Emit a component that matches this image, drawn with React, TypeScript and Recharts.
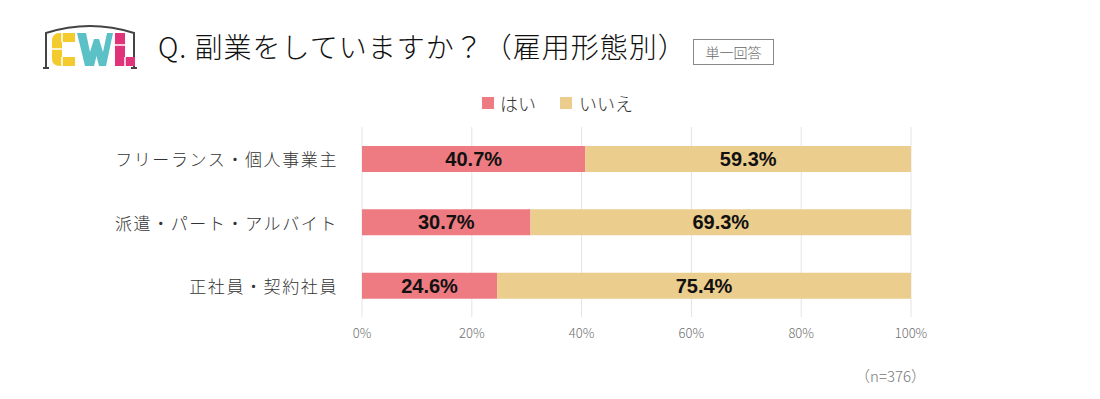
import React from "react";
import {
  BarChart,
  Bar,
  XAxis,
  YAxis,
  CartesianGrid,
  LabelList,
} from "recharts";

const categories = [
  "フリーランス・個人事業主",
  "派遣・パート・アルバイト",
  "正社員・契約社員",
];
const yesValues = [40.7, 30.7, 24.6];
const noValues = [59.3, 69.3, 75.4];
const xTicks = [0, 20, 40, 60, 80, 100];

const YES_COLOR = "#ED7B81";
const NO_COLOR = "#EBCD8D";
const JP = '"Noto Sans CJK JP", "Noto Sans", sans-serif';
const LABEL_FONT = '"Liberation Sans", Arial, sans-serif';

const data = categories.map((name, i) => ({
  name,
  yes: yesValues[i],
  no: noValues[i],
}));

function Logo() {
  return (
    <svg width={100} height={60} style={{ position: "absolute", left: 40, top: 15 }}>
      <path
        d="M6 53 L6 18 Q50 4 94 18 L94 53"
        fill="none"
        stroke="#444"
        strokeWidth={2}
      />
      <path d="M3 53 L9 53 M91 53 L97 53" stroke="#444" strokeWidth={2} />
      {/* C */}
      <path
        d="M35 18 L20 18 Q12 18 12 26 L12 44 Q12 51 20 51 L35 51 L35 42 L22 42 L22 27 L35 27 Z"
        fill="#F3CB2E"
      />
      <path d="M12 34 L22 34 M22 18 L22 27 M22 42 L22 51" stroke="#fff" strokeWidth={1.5} />
      {/* W */}
      <path d="M37 18 L46 18 L50 37 L54 24 L59 24 L63 37 L67 18 L73 18 L66 51 L59 51 L56.5 41 L54 51 L45 51 Z" fill="#5CC0C7" />
      {/* L */}
      <path d="M75 18 L85 18 L85 42 L95 42 L95 51 L75 51 Z" fill="#E0337A" />
      <path d="M75 30 L85 30 M85 42 L85 51" stroke="#fff" strokeWidth={1.5} />
    </svg>
  );
}

function CategoryTick(props: any) {
  const { y, payload } = props;
  return (
    <text
      x={338}
      y={y}
      textAnchor="end"
      dominantBaseline="central"
      fontFamily={JP}
      fontSize={17}
      fontWeight={300}
      letterSpacing={1.6}
      fill="#333"
    >
      {payload.value}
    </text>
  );
}

function LegendBox() {
  return (
    <div
      style={{
        position: "absolute",
        top: 90,
        left: 482,
        display: "flex",
        alignItems: "center",
        fontFamily: JP,
        fontSize: 18,
        color: "#333",
        fontWeight: 300,
        lineHeight: "26px",
      }}
    >
      <span style={{ width: 12, height: 12, background: YES_COLOR, marginRight: 6 }} />
      <span style={{ marginRight: 24 }}>はい</span>
      <span style={{ width: 12, height: 12, background: NO_COLOR, marginRight: 7 }} />
      <span>いいえ</span>
    </div>
  );
}

export default function App() {
  return (
    <div
      style={{
        position: "absolute",
        left: 0,
        top: 0,
        width: 1100,
        height: 399,
        background: "#fff",
        overflow: "hidden",
      }}
    >
      <Logo />
      <div
        style={{
          position: "absolute",
          left: 158,
          top: 27,
          fontFamily: JP,
          fontSize: 28,
          fontWeight: 300,
          letterSpacing: 1,
          color: "#111",
          whiteSpace: "nowrap",
          lineHeight: "38px",
        }}
      >
        Q. 副業をしていますか？（雇用形態別）
      </div>
      <div
        style={{
          position: "absolute",
          left: 693,
          top: 39,
          width: 79,
          height: 24,
          border: "1px solid #888",
          fontFamily: JP,
          fontSize: 14,
          color: "#666",
          textAlign: "center",
          lineHeight: "24px",
          fontWeight: 300,
        }}
      >
        単一回答
      </div>
      <LegendBox />
      <div style={{ position: "absolute", left: 0, top: 0 }}>
        <BarChart
          width={1100}
          height={399}
          data={data}
          layout="vertical"
          barSize={26}
          margin={{ top: 127, right: 189, bottom: 52, left: 0 }}
        >
          <CartesianGrid horizontal={false} stroke="#e4e4e4" />
          <XAxis
            type="number"
            domain={[0, 100]}
            ticks={xTicks}
            tickFormatter={(v) => `${v}%`}
            axisLine={false}
            tickLine={false}
            height={30}
            tickMargin={6}
            tick={{ fill: "#707070", fontSize: 13, fontFamily: JP, fontWeight: 300 }}
          />
          <YAxis
            type="category"
            dataKey="name"
            width={362}
            axisLine={false}
            tickLine={false}
            tick={<CategoryTick />}
          />
          <Bar dataKey="yes" stackId="a" fill={YES_COLOR} isAnimationActive={false}>
            <LabelList
              dataKey="yes"
              position="center"
              formatter={(v: any) => `${Number(v).toFixed(1)}%`}
              style={{ fill: "#111", fontSize: 20, fontWeight: 700, fontFamily: LABEL_FONT }}
            />
          </Bar>
          <Bar dataKey="no" stackId="a" fill={NO_COLOR} isAnimationActive={false}>
            <LabelList
              dataKey="no"
              position="center"
              formatter={(v: any) => `${Number(v).toFixed(1)}%`}
              style={{ fill: "#111", fontSize: 20, fontWeight: 700, fontFamily: LABEL_FONT }}
            />
          </Bar>
        </BarChart>
      </div>
      <div
        style={{
          position: "absolute",
          left: 855,
          top: 365,
          fontFamily: JP,
          fontSize: 15,
          color: "#777",
          fontWeight: 300,
        }}
      >
        （n=376）
      </div>
    </div>
  );
}
